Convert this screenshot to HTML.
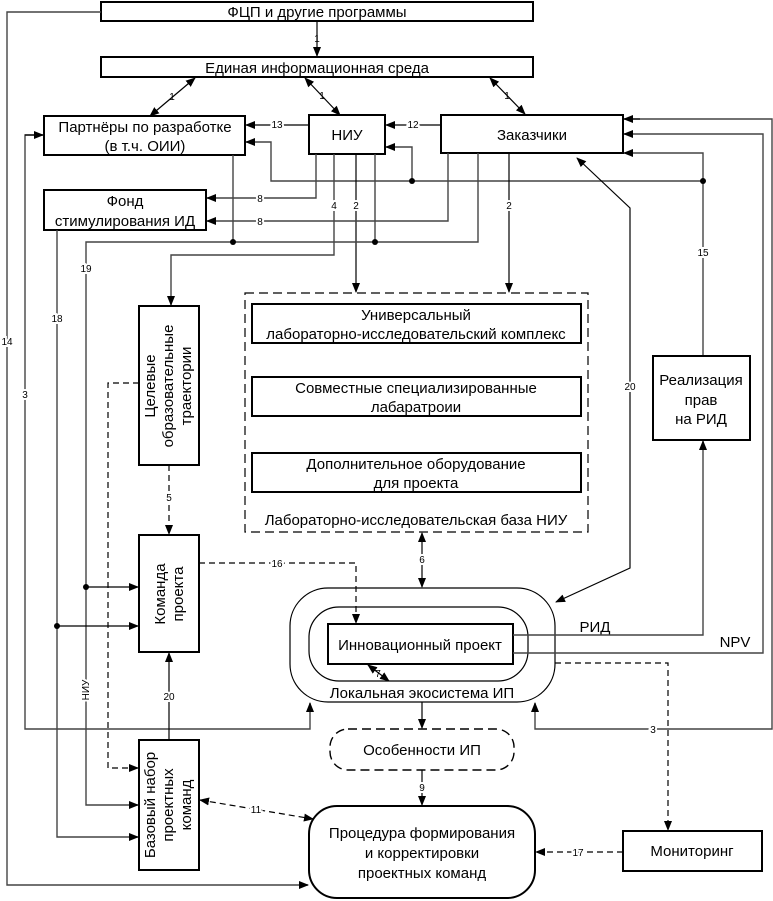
<!DOCTYPE html>
<html><head><meta charset="utf-8"><style>
html,body{margin:0;padding:0;background:#fff}
svg{display:block}
text{font-family:"Liberation Sans Narrow","Liberation Sans",sans-serif;fill:#000}
.b{fill:#fff;stroke:#000;stroke-width:2}
.l{fill:none;stroke:#000;stroke-width:1.2}
.g{fill:none;stroke:#444;stroke-width:1.4}
.d{fill:none;stroke:#000;stroke-width:1.2;stroke-dasharray:6,4}
.t{font-size:15px;text-anchor:middle}
.s{font-size:10px;text-anchor:middle}
</style></head><body>
<svg width="773" height="901" viewBox="0 0 773 901" xmlns="http://www.w3.org/2000/svg">
<defs>
<marker id="a" markerWidth="10" markerHeight="8" refX="9" refY="4" orient="auto" markerUnits="userSpaceOnUse"><path d="M0,0 L10,4 L0,8 z" fill="#000"/></marker>
<marker id="s" markerWidth="10" markerHeight="8" refX="1" refY="4" orient="auto" markerUnits="userSpaceOnUse"><path d="M10,0 L0,4 L10,8 z" fill="#000"/></marker>
</defs>

<!-- boxes -->
<rect class="b" x="101" y="2" width="432" height="19"/>
<text class="t" x="317" y="17">ФЦП и другие программы</text>
<rect class="b" x="101" y="57" width="432" height="20"/>
<text class="t" x="317" y="73">Единая информационная среда</text>
<rect class="b" x="44" y="116" width="201" height="39"/>
<text class="t" x="145" y="132">Партнёры по разработке</text>
<text class="t" x="145" y="151">(в т.ч. ОИИ)</text>
<rect class="b" x="309" y="115" width="76" height="39"/>
<text class="t" x="347" y="140">НИУ</text>
<rect class="b" x="441" y="115" width="182" height="38"/>
<text class="t" x="532" y="140">Заказчики</text>
<rect class="b" x="44" y="190" width="162" height="40"/>
<text class="t" x="125" y="206">Фонд</text>
<text class="t" x="125" y="226">стимулирования ИД</text>

<rect x="245" y="293" width="343" height="239" fill="none" stroke="#000" stroke-width="1.2" stroke-dasharray="9,5"/>
<rect class="b" x="252" y="304" width="329" height="39"/>
<text class="t" x="416" y="320">Универсальный</text>
<text class="t" x="416" y="339">лабораторно-исследовательский комплекс</text>
<rect class="b" x="252" y="377" width="329" height="39"/>
<text class="t" x="416" y="393">Совместные специализированные</text>
<text class="t" x="416" y="412">лабаратроии</text>
<rect class="b" x="252" y="453" width="329" height="39"/>
<text class="t" x="416" y="469">Дополнительное оборудование</text>
<text class="t" x="416" y="488">для проекта</text>
<text class="t" x="416" y="525">Лабораторно-исследовательская база НИУ</text>

<rect class="b" x="139" y="306" width="60" height="159"/>
<text class="t" transform="translate(169,386) rotate(-90)"><tspan x="0" y="-14">Целевые</tspan><tspan x="0" y="4">образовательные</tspan><tspan x="0" y="22">траектории</tspan></text>
<rect class="b" x="139" y="535" width="60" height="117"/>
<text class="t" transform="translate(169,594) rotate(-90)"><tspan x="0" y="-4">Команда</tspan><tspan x="0" y="14">проекта</tspan></text>
<rect class="b" x="139" y="740" width="60" height="130"/>
<text class="t" transform="translate(169,805) rotate(-90)"><tspan x="0" y="-14">Базовый набор</tspan><tspan x="0" y="4">проектных</tspan><tspan x="0" y="22">команд</tspan></text>

<rect class="b" x="653" y="356" width="97" height="84"/>
<text class="t" x="701" y="385">Реализация</text>
<text class="t" x="701" y="405">прав</text>
<text class="t" x="701" y="424">на РИД</text>

<rect x="290" y="588" width="265" height="114" rx="38" fill="#fff" stroke="#000" stroke-width="1.2"/>
<rect x="309" y="607" width="219" height="74" rx="30" fill="#fff" stroke="#000" stroke-width="1.2"/>
<rect class="b" x="328" y="624" width="185" height="40"/>
<text class="t" x="420" y="650">Инновационный проект</text>
<text class="t" x="422" y="698">Локальная экосистема ИП</text>

<rect x="330" y="729" width="184" height="41" rx="18" fill="#fff" stroke="#000" stroke-width="1.4" stroke-dasharray="9,5"/>
<text class="t" x="422" y="755">Особенности ИП</text>
<rect x="309" y="806" width="226" height="92" rx="28" fill="#fff" stroke="#000" stroke-width="2"/>
<text class="t" x="422" y="838">Процедура формирования</text>
<text class="t" x="422" y="858">и корректировки</text>
<text class="t" x="422" y="878">проектных команд</text>
<rect class="b" x="623" y="831" width="139" height="40"/>
<text class="t" x="692" y="856">Мониторинг</text>

<text class="t" x="595" y="632">РИД</text>
<text class="t" x="735" y="647">NPV</text>

<!-- top arrows -->
<line class="l" x1="317" y1="21" x2="317" y2="56" marker-end="url(#a)"/>
<text class="s" x="317" y="42">1</text>
<line class="l" x1="195" y1="78" x2="150" y2="116" marker-start="url(#s)" marker-end="url(#a)"/>
<line class="l" x1="305" y1="78" x2="340" y2="115" marker-start="url(#s)" marker-end="url(#a)"/>
<line class="l" x1="490" y1="78" x2="525" y2="114" marker-start="url(#s)" marker-end="url(#a)"/>
<text class="s" x="172" y="100">1</text><text class="s" x="322" y="99">1</text><text class="s" x="507" y="99">1</text>

<line class="l" x1="309" y1="125" x2="246" y2="125" marker-end="url(#a)"/>
<text class="s" x="277" y="128" style="paint-order:stroke;stroke:#fff;stroke-width:4">13</text>
<line class="l" x1="441" y1="125" x2="386" y2="125" marker-end="url(#a)"/>
<text class="s" x="413" y="128" style="paint-order:stroke;stroke:#fff;stroke-width:4">12</text>

<!-- outer left 14 -->
<polyline class="g" points="101,12 7,12 7,885 308,885" marker-end="url(#a)"/>
<text class="s" x="7" y="345" style="paint-order:stroke;stroke:#fff;stroke-width:4">14</text>
<!-- 3 left -->
<polyline class="g" points="43,135 25,135 25,729 310,729 310,703" marker-end="url(#a)"/>
<line class="l" x1="25" y1="135" x2="43" y2="135" marker-end="url(#a)"/>
<text class="s" x="25" y="398" style="paint-order:stroke;stroke:#fff;stroke-width:4">3</text>
<!-- right 3 -->
<polyline class="g" points="624,119 772,119 772,729 535,729 535,703" marker-end="url(#a)"/>
<line class="l" x1="640" y1="119" x2="624" y2="119" marker-end="url(#a)"/>
<text class="s" x="653" y="733" style="paint-order:stroke;stroke:#fff;stroke-width:4">3</text>
<!-- NPV -->
<polyline class="g" points="513,653 763,653 763,134 624,134" marker-end="url(#a)"/>
<!-- РИД -->
<polyline class="g" points="513,635 703,635 703,441" marker-end="url(#a)"/>
<!-- 15 -->
<polyline class="g" points="703,355 703,153 624,153" marker-end="url(#a)"/>
<text class="s" x="703" y="256" style="paint-order:stroke;stroke:#fff;stroke-width:4">15</text>
<!-- y181 line -->
<polyline class="g" points="703,181 271,181 271,142 246,142" marker-end="url(#a)"/>
<polyline class="g" points="412,181 412,147 386,147" marker-end="url(#a)"/>
<circle cx="703" cy="181" r="3"/><circle cx="412" cy="181" r="3"/>

<!-- NIU bottom -->
<polyline class="g" points="316,154 316,198 207,198" marker-end="url(#a)"/>
<text class="s" x="260" y="202" style="paint-order:stroke;stroke:#fff;stroke-width:4">8</text>
<polyline class="g" points="334,154 334,255 171,255 171,305" marker-end="url(#a)"/>
<text class="s" x="334" y="209" style="paint-order:stroke;stroke:#fff;stroke-width:4">4</text>
<line class="l" x1="356" y1="154" x2="356" y2="292" marker-end="url(#a)"/>
<text class="s" x="356" y="209" style="paint-order:stroke;stroke:#fff;stroke-width:4">2</text>
<line class="g" x1="375" y1="154" x2="375" y2="242"/>
<!-- zakaz bottom -->
<polyline class="g" points="448,153 448,221 207,221" marker-end="url(#a)"/>
<text class="s" x="260" y="225" style="paint-order:stroke;stroke:#fff;stroke-width:4">8</text>
<line class="l" x1="509" y1="153" x2="509" y2="292" marker-end="url(#a)"/>
<text class="s" x="509" y="209" style="paint-order:stroke;stroke:#fff;stroke-width:4">2</text>
<polyline class="g" points="478,153 478,242 86,242 86,805 138,805" marker-end="url(#a)"/>
<line class="g" x1="233" y1="155" x2="233" y2="242"/>
<circle cx="233" cy="242" r="3"/><circle cx="375" cy="242" r="3"/>
<text class="s" x="86" y="272" style="paint-order:stroke;stroke:#fff;stroke-width:4">19</text>
<line class="l" x1="86" y1="587" x2="138" y2="587" marker-end="url(#a)"/>
<circle cx="86" cy="587" r="3"/>
<text class="s" transform="translate(89,690) rotate(-90)" style="paint-order:stroke;stroke:#fff;stroke-width:4">НИУ</text>
<!-- 18 -->
<polyline class="g" points="57,230 57,837 138,837" marker-end="url(#a)"/>
<line class="l" x1="57" y1="626" x2="138" y2="626" marker-end="url(#a)"/>
<circle cx="57" cy="626" r="3"/>
<text class="s" x="57" y="322" style="paint-order:stroke;stroke:#fff;stroke-width:4">18</text>

<!-- 20 right -->
<polyline class="l" points="556,602 630,568 630,208 577,158" marker-start="url(#s)" marker-end="url(#a)"/>
<text class="s" x="630" y="390" style="paint-order:stroke;stroke:#fff;stroke-width:4">20</text>

<!-- 5 -->
<line class="d" x1="169" y1="465" x2="169" y2="534" marker-end="url(#a)"/>
<text class="s" x="169" y="501" style="paint-order:stroke;stroke:#fff;stroke-width:4">5</text>
<polyline class="d" points="139,383 108,383 108,768 138,768" marker-end="url(#a)"/>
<!-- 16 -->
<polyline class="d" points="199,563 356,563 356,623" marker-end="url(#a)"/>
<text class="s" x="277" y="567" style="paint-order:stroke;stroke:#fff;stroke-width:4">16</text>
<!-- 6 -->
<line class="l" x1="422" y1="533" x2="422" y2="587" marker-start="url(#s)" marker-end="url(#a)"/>
<text class="s" x="422" y="563" style="paint-order:stroke;stroke:#fff;stroke-width:4">6</text>
<!-- 20 left -->
<line class="l" x1="169" y1="740" x2="169" y2="653" marker-end="url(#a)"/>
<text class="s" x="169" y="700" style="paint-order:stroke;stroke:#fff;stroke-width:4">20</text>
<!-- eco down -->
<line class="l" x1="422" y1="702" x2="422" y2="728" marker-end="url(#a)"/>
<line class="l" x1="422" y1="770" x2="422" y2="805" marker-end="url(#a)"/>
<text class="s" x="422" y="791" style="paint-order:stroke;stroke:#fff;stroke-width:4">9</text>
<!-- 11 -->
<line class="d" x1="200" y1="800" x2="313" y2="819" marker-start="url(#s)" marker-end="url(#a)"/>
<text class="s" x="256" y="813" style="paint-order:stroke;stroke:#fff;stroke-width:4">11</text>
<!-- 17 -->
<line class="d" x1="623" y1="852" x2="536" y2="852" marker-end="url(#a)"/>
<text class="s" x="578" y="856" style="paint-order:stroke;stroke:#fff;stroke-width:4">17</text>
<!-- monitoring dashed -->
<polyline class="d" points="555,663 668,663 668,830" marker-end="url(#a)"/>
<!-- 7 -->
<line class="l" x1="368" y1="665" x2="389" y2="681" marker-start="url(#s)" marker-end="url(#a)"/>
<text class="s" x="378" y="677">7</text>
</svg>
</body></html>
